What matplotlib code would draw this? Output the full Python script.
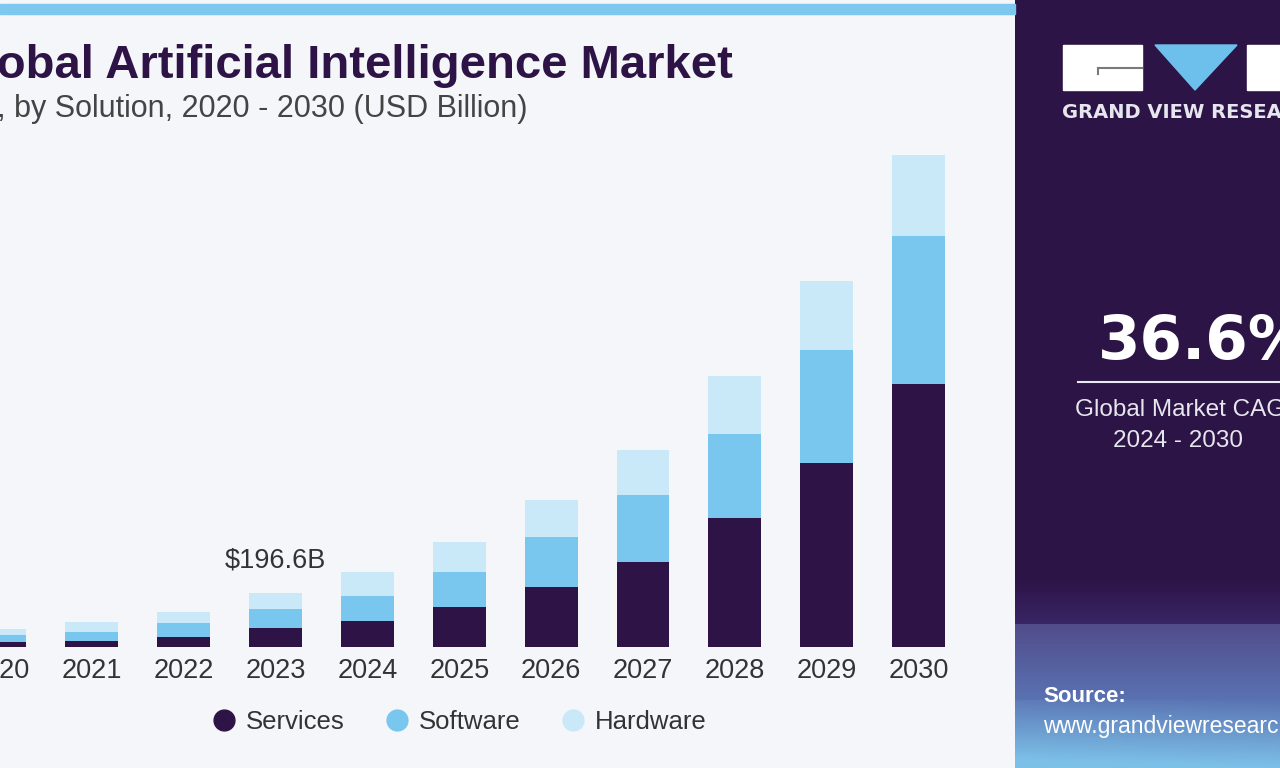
import numpy as np
import matplotlib
matplotlib.use("Agg")
from matplotlib import pyplot as plt
from matplotlib.lines import Line2D
from matplotlib.patches import Rectangle, Polygon

plt.rcParams['font.family'] = ['Liberation Sans', 'DejaVu Sans']

years = ['2020', '2021', '2022', '2023', '2024', '2025', '2026', '2027', '2028', '2029', '2030']
services = [18, 22, 36, 70, 95, 146, 218, 309, 470, 670, 957]
software = [25, 33, 51, 69, 91, 127, 182, 244, 306, 411, 539]
hardware = [22, 36, 40, 57.6, 87, 109, 135, 164, 211, 251, 295]
series_names = ['Services', 'Software', 'Hardware']
colors = ['#2e1446', '#79c6ee', '#c9e8f8']
highlight_year = '2023'
highlight_label = r'\$196.6B'
cagr = '36.6%'

W, H = 1280, 768


def fx(x):
    return x / W


def fy(y):
    return 1 - y / H


def hexrgb(h):
    return np.array([int(h[i:i + 2], 16) for i in (1, 3, 5)]) / 255


fig = plt.figure(figsize=(12.8, 7.68), dpi=100)
fig.patch.set_facecolor('#f4f6fa')

# top stripe
fig.patches.append(Rectangle((0, fy(14)), fx(1015), 10 / H, transform=fig.transFigure,
                             color='#7dc8ee', zorder=0))

# chart
ax = fig.add_axes([0, fy(647), fx(1015), (647 - 140) / H])
ax.set_facecolor('none')
x = np.arange(len(years))
s = np.array(services)
sw = np.array(software)
hw = np.array(hardware)
ax.bar(x, s, width=0.575, color=colors[0])
ax.bar(x, sw, width=0.575, bottom=s, color=colors[1])
ax.bar(x, hw, width=0.575, bottom=s + sw, color=colors[2])
ax.set_xlim(0.043, 11.05)
ax.set_ylim(0, (647 - 140) * 3.64)
ax.set_xticks(x)
ax.set_xticklabels(years, fontsize=19.5, color='#333333')
ax.tick_params(axis='x', length=0, pad=8)
ax.set_yticks([])
for sp in ax.spines.values():
    sp.set_visible(False)

i = years.index(highlight_year)
ax.annotate(highlight_label, xy=(i, s[i] + sw[i] + hw[i]), xytext=(0, 14),
            textcoords='offset points', ha='center', va='bottom', fontsize=19.5, color='#333333')

# title (cropped at the left edge, as in the source image)
fig.text(fx(733), fy(66), 'Global Artificial Intelligence Market', ha='right', va='center',
         fontsize=34, fontweight='bold', color='#2e1446')
fig.text(fx(528), fy(109), 'Size, by Solution, 2020 - 2030 (USD Billion)', ha='right', va='center',
         fontsize=22, color='#444444')

# legend
handles = [Line2D([], [], marker='o', linestyle='none', markersize=15, color=c) for c in colors]
fig.legend(handles, series_names, loc='center', bbox_to_anchor=(fx(459), fy(722)), ncol=3,
           frameon=False, fontsize=18.5, handlelength=1.0, handletextpad=0.35, columnspacing=1.55,
           labelcolor='#333333')

# right panel
pax = fig.add_axes([fx(1015), 0, 1 - fx(1015), 1])
pax.set_xlim(1015, 1280)
pax.set_ylim(768, 0)
pax.axis('off')
c_top = hexrgb('#2d1446')
c_mid = hexrgb('#3a2666')
c_band = hexrgb('#524c8a')
c_low = hexrgb('#5a72b2')
c_bot = hexrgb('#7cc0e8')
grad = np.zeros((384, 60, 3))
for r in range(384):
    yy = r / 383 * 768
    for c in range(60):
        xx = c / 59
        if yy < 580:
            col = c_top
        elif yy < 625:
            t = (yy - 580) / 45
            col = c_top * (1 - t) + c_mid * t
        elif yy < 700:
            t = (yy - 625) / 75
            col = c_band * (1 - t) + c_low * t
        else:
            t = min(1, (yy - 700) / 68 + (1 - xx) * 0.1)
            col = c_low * (1 - t) + c_bot * t
        grad[r, c] = col
pax.imshow(grad, extent=(1015, 1280, 768, 0), aspect='auto', zorder=0)

# logo
pax.add_patch(Rectangle((1063, 45), 79, 45, color='white', zorder=2))
pax.plot([1098, 1142], [68, 68], color='#7a7a7a', lw=1.5, zorder=3)
pax.plot([1098, 1098], [68, 74], color='#7a7a7a', lw=1.5, zorder=3)
pax.add_patch(Polygon([(1155, 45), (1237, 45), (1195, 90)], closed=True, color='#6ec0ec', zorder=2))
pax.add_patch(Rectangle((1247, 45), 40, 45, color='white', zorder=2))
pax.text(1062, 112, 'GRAND VIEW RESEARCH', fontsize=14, fontweight='bold', color='#e6e6ee',
         family='DejaVu Sans', va='center', ha='left', zorder=3)

pax.text(1098, 343, cagr, fontsize=44, fontweight='bold', color='white', family='DejaVu Sans',
         va='center', ha='left', zorder=3)
pax.plot([1078, 1285], [382, 382], color='#e8e8f0', lw=1.5, zorder=3)
pax.text(1075, 410, 'Global Market CAGR', fontsize=17.5, color='#e6e6ee', va='center', ha='left', zorder=3)
pax.text(1178, 441, '2024 - 2030', fontsize=17.5, color='#e6e6ee', va='center', ha='center', zorder=3)

pax.text(1043, 697, 'Source:', fontsize=16, fontweight='bold', color='white', va='center', ha='left', zorder=3)
pax.text(1043, 727, 'www.grandviewresearch.com', fontsize=16.5, color='white', va='center', ha='left', zorder=3)

fig.savefig('out.png', dpi=100, facecolor=fig.get_facecolor())
